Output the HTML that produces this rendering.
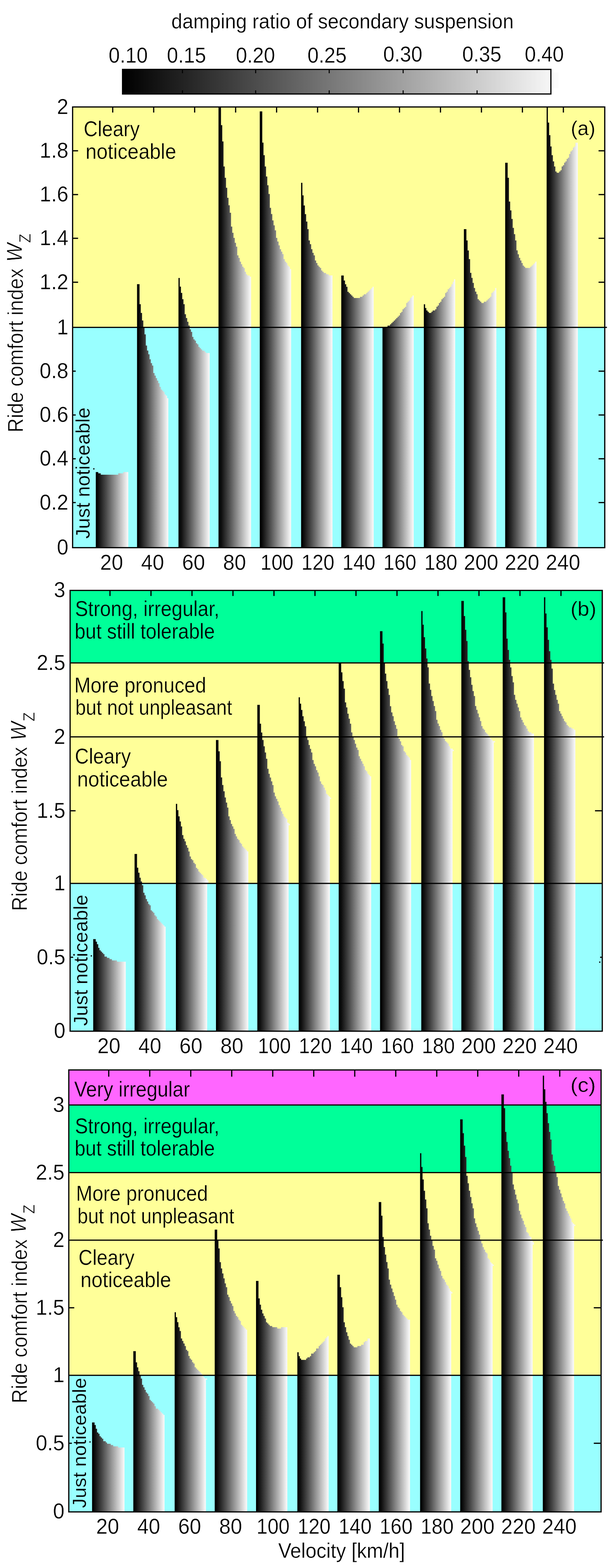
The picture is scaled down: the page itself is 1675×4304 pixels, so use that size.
<!DOCTYPE html><html><head><meta charset="utf-8"><title>Ride comfort index</title><style>html,body{margin:0;padding:0;background:#fff}svg{display:block}</style></head><body><svg width="1675" height="4304" viewBox="0 0 1675 4304" font-family="'Liberation Sans', Arial, sans-serif" font-size="54.3" fill="#000" stroke-width="0.5">
<rect width="1675" height="4304" fill="#fff"/>
<text text-anchor="middle" transform="translate(940.5 78.0) scale(0.995 1.04)" stroke="#fff">damping ratio of secondary suspension</text>
<linearGradient id="cb" x1="0" y1="0" x2="1" y2="0"><stop offset="0" stop-color="#000"/><stop offset="1" stop-color="#f6f6f6"/></linearGradient>
<rect x="1516.5" y="199" width="17" height="43" fill="#fbfbfb"/>
<rect x="336.5" y="190.5" width="1176.2" height="67.5" fill="url(#cb)" stroke="#000" stroke-width="3.3"/>
<line x1="501.0" y1="190.0" x2="501.0" y2="201.0" stroke="#000" stroke-width="2.8"/>
<line x1="501.0" y1="259.0" x2="501.0" y2="248.0" stroke="#000" stroke-width="2.8"/>
<line x1="702.0" y1="190.0" x2="702.0" y2="201.0" stroke="#000" stroke-width="2.8"/>
<line x1="702.0" y1="259.0" x2="702.0" y2="248.0" stroke="#000" stroke-width="2.8"/>
<line x1="904.0" y1="190.0" x2="904.0" y2="201.0" stroke="#000" stroke-width="2.8"/>
<line x1="904.0" y1="259.0" x2="904.0" y2="248.0" stroke="#000" stroke-width="2.8"/>
<line x1="1107.0" y1="190.0" x2="1107.0" y2="201.0" stroke="#000" stroke-width="2.8"/>
<line x1="1107.0" y1="259.0" x2="1107.0" y2="248.0" stroke="#000" stroke-width="2.8"/>
<line x1="1310.0" y1="190.0" x2="1310.0" y2="201.0" stroke="#000" stroke-width="2.8"/>
<line x1="1310.0" y1="259.0" x2="1310.0" y2="248.0" stroke="#000" stroke-width="2.8"/>
<text text-anchor="middle" transform="translate(352.0 172.0) scale(1.020 1.095)" stroke="#fff">0.10</text>
<text text-anchor="middle" transform="translate(512.0 172.0) scale(1.020 1.095)" stroke="#fff">0.15</text>
<text text-anchor="middle" transform="translate(701.5 172.0) scale(1.020 1.095)" stroke="#fff">0.20</text>
<text text-anchor="middle" transform="translate(898.0 172.0) scale(1.020 1.095)" stroke="#fff">0.25</text>
<text text-anchor="middle" transform="translate(1106.0 168.8) scale(1.020 1.095)" stroke="#fff">0.30</text>
<text text-anchor="middle" transform="translate(1323.0 168.8) scale(1.020 1.095)" stroke="#fff">0.35</text>
<text text-anchor="middle" transform="translate(1494.5 168.8) scale(1.020 1.095)" stroke="#fff">0.40</text>
<rect x="199.4" y="898.7" width="1461.2" height="604.6" fill="#99ffff"/>
<rect x="199.4" y="293.5" width="1461.2" height="605.2" fill="#ffff99"/>
<clipPath id="clipa"><rect x="0" y="293.6" width="1675" height="1209.7"/></clipPath>
<g clip-path="url(#clipa)">
<linearGradient id="g1" gradientUnits="userSpaceOnUse" x1="263.0" y1="0" x2="352.3" y2="0"><stop offset="0.03" stop-color="#000000"/><stop offset="0.34" stop-color="#505050"/><stop offset="0.57" stop-color="#8e8e8e"/><stop offset="0.77" stop-color="#c2c2c2"/><stop offset="0.98" stop-color="#f7f7f7"/></linearGradient>
<path d="M263.0,1503.3V1295.8H266.4V1295.8H269.9V1299.3H273.3V1299.3H276.7V1302.9H280.2V1302.9H283.6V1302.9H287.0V1302.9H290.5V1302.9H293.9V1302.9H297.3V1302.9H300.8V1302.9H304.2V1302.9H307.6V1302.9H311.1V1302.9H314.5V1302.9H317.9V1302.9H321.4V1302.9H324.8V1299.3H328.2V1299.3H331.7V1299.3H335.1V1299.3H338.5V1295.8H342.0V1295.8H345.4V1295.8H348.8V1295.8H352.3V1503.3Z" fill="url(#g1)"/>
<linearGradient id="g2" gradientUnits="userSpaceOnUse" x1="376.3" y1="0" x2="462.2" y2="0"><stop offset="0.03" stop-color="#000000"/><stop offset="0.34" stop-color="#505050"/><stop offset="0.57" stop-color="#8e8e8e"/><stop offset="0.77" stop-color="#c2c2c2"/><stop offset="0.98" stop-color="#f7f7f7"/></linearGradient>
<path d="M376.3,1503.3V779.9H379.8V779.9H383.2V834.9H386.6V859.1H390.1V879.8H393.5V898.7H396.9V917.8H400.4V948.5H403.8V962.3H407.3V972.6H410.7V986.2H414.1V996.8H417.6V1003.6H421.0V1024.1H424.4V1031.0H427.9V1038.0H431.3V1044.8H434.7V1051.8H438.2V1062.0H441.6V1069.0H445.1V1072.3H448.5V1075.8H451.9V1082.8H455.4V1086.1H458.8V1093.0H462.2V1503.3Z" fill="url(#g2)"/>
<linearGradient id="g3" gradientUnits="userSpaceOnUse" x1="490.1" y1="0" x2="575.8" y2="0"><stop offset="0.03" stop-color="#000000"/><stop offset="0.34" stop-color="#505050"/><stop offset="0.57" stop-color="#8e8e8e"/><stop offset="0.77" stop-color="#c2c2c2"/><stop offset="0.98" stop-color="#f7f7f7"/></linearGradient>
<path d="M490.1,1503.3V763.0H493.5V786.8H496.9V803.9H500.4V821.2H503.8V835.0H507.2V862.5H510.7V873.1H514.1V883.2H517.5V893.6H521.0V904.0H524.4V910.9H527.8V924.7H531.2V931.5H534.7V935.1H538.1V942.0H541.5V945.3H545.0V952.2H548.4V955.6H551.8V959.1H555.3V962.6H558.7V962.6H562.1V966.0H565.6V969.1H569.0V969.1H572.4V969.1H575.8V1503.3Z" fill="url(#g3)"/>
<linearGradient id="g4" gradientUnits="userSpaceOnUse" x1="600.0" y1="0" x2="689.4" y2="0"><stop offset="0.03" stop-color="#000000"/><stop offset="0.34" stop-color="#505050"/><stop offset="0.57" stop-color="#8e8e8e"/><stop offset="0.77" stop-color="#c2c2c2"/><stop offset="0.98" stop-color="#f7f7f7"/></linearGradient>
<path d="M600.0,1503.3V285.0H603.4V285.0H606.9V343.6H610.3V388.3H613.7V457.1H617.2V488.1H620.6V515.5H624.0V543.0H627.5V563.6H630.9V584.1H634.4V621.9H637.8V639.1H641.2V652.9H644.7V666.6H648.1V676.9H651.5V700.9H655.0V707.9H658.4V718.2H661.9V725.2H665.3V731.9H668.7V735.7H672.2V745.9H675.6V752.8H679.0V756.2H682.5V756.2H685.9V759.6H689.4V1503.3Z" fill="url(#g4)"/>
<linearGradient id="g5" gradientUnits="userSpaceOnUse" x1="713.3" y1="0" x2="799.4" y2="0"><stop offset="0.03" stop-color="#000000"/><stop offset="0.34" stop-color="#505050"/><stop offset="0.57" stop-color="#8e8e8e"/><stop offset="0.77" stop-color="#c2c2c2"/><stop offset="0.98" stop-color="#f7f7f7"/></linearGradient>
<path d="M713.3,1503.3V305.8H716.7V305.8H720.2V391.6H723.6V426.1H727.1V457.0H730.5V484.5H734.0V508.5H737.4V532.6H740.9V570.5H744.3V587.4H747.7V604.9H751.2V618.4H754.6V632.2H758.1V652.9H761.5V663.0H765.0V673.5H768.4V683.9H771.9V690.7H775.3V697.5H778.7V711.3H782.2V718.0H785.6V721.7H789.1V728.5H792.5V731.8H796.0V738.6H799.4V1503.3Z" fill="url(#g5)"/>
<linearGradient id="g6" gradientUnits="userSpaceOnUse" x1="826.8" y1="0" x2="913.0" y2="0"><stop offset="0.03" stop-color="#000000"/><stop offset="0.34" stop-color="#505050"/><stop offset="0.57" stop-color="#8e8e8e"/><stop offset="0.77" stop-color="#c2c2c2"/><stop offset="0.98" stop-color="#f7f7f7"/></linearGradient>
<path d="M826.8,1503.3V501.7H830.3V536.2H833.7V563.9H837.2V587.8H840.6V608.3H844.1V629.1H847.5V659.9H851.0V670.2H854.4V684.0H857.9V694.1H861.3V701.1H864.8V715.0H868.2V722.1H871.6V728.6H875.1V732.2H878.5V735.4H882.0V742.4H885.4V746.0H888.9V749.2H892.3V749.2H895.8V752.8H899.2V752.8H902.7V756.1H906.1V756.1H909.6V756.1H913.0V1503.3Z" fill="url(#g6)"/>
<linearGradient id="g7" gradientUnits="userSpaceOnUse" x1="937.1" y1="0" x2="1026.2" y2="0"><stop offset="0.03" stop-color="#000000"/><stop offset="0.34" stop-color="#505050"/><stop offset="0.57" stop-color="#8e8e8e"/><stop offset="0.77" stop-color="#c2c2c2"/><stop offset="0.98" stop-color="#f7f7f7"/></linearGradient>
<path d="M937.1,1503.3V756.2H940.5V756.2H943.9V769.9H947.4V780.2H950.8V787.2H954.2V801.1H957.7V804.3H961.1V807.8H964.5V811.3H967.9V814.8H971.4V818.1H974.8V818.1H978.2V818.1H981.7V818.1H985.1V818.1H988.5V814.8H991.9V814.8H995.4V811.3H998.8V807.8H1002.2V807.8H1005.7V804.3H1009.1V801.1H1012.5V797.6H1015.9V794.2H1019.4V790.6H1022.8V787.2H1026.2V1503.3Z" fill="url(#g7)"/>
<linearGradient id="g8" gradientUnits="userSpaceOnUse" x1="1050.3" y1="0" x2="1136.1" y2="0"><stop offset="0.03" stop-color="#000000"/><stop offset="0.34" stop-color="#505050"/><stop offset="0.57" stop-color="#8e8e8e"/><stop offset="0.77" stop-color="#c2c2c2"/><stop offset="0.98" stop-color="#f7f7f7"/></linearGradient>
<path d="M1050.3,1503.3V896.9H1053.7V896.9H1057.1V896.9H1060.6V896.9H1064.0V893.7H1067.4V893.7H1070.9V890.2H1074.3V886.7H1077.7V883.5H1081.2V880.0H1084.6V876.5H1088.0V873.0H1091.5V869.5H1094.9V866.1H1098.3V859.3H1101.8V855.9H1105.2V848.9H1108.6V845.4H1112.1V842.2H1115.5V831.7H1118.9V828.3H1122.4V824.8H1125.8V818.0H1129.2V814.6H1132.7V811.1H1136.1V1503.3Z" fill="url(#g8)"/>
<linearGradient id="g9" gradientUnits="userSpaceOnUse" x1="1163.8" y1="0" x2="1249.9" y2="0"><stop offset="0.03" stop-color="#000000"/><stop offset="0.34" stop-color="#505050"/><stop offset="0.57" stop-color="#8e8e8e"/><stop offset="0.77" stop-color="#c2c2c2"/><stop offset="0.98" stop-color="#f7f7f7"/></linearGradient>
<path d="M1163.8,1503.3V835.2H1167.3V845.4H1170.7V852.3H1174.2V855.8H1177.6V859.1H1181.0V859.1H1184.5V855.8H1187.9V852.3H1191.4V852.3H1194.8V848.9H1198.3V842.1H1201.7V838.6H1205.1V831.7H1208.6V828.2H1212.0V821.5H1215.5V818.0H1218.9V814.5H1222.4V804.3H1225.8V800.8H1229.2V793.9H1232.7V790.6H1236.1V787.1H1239.6V780.2H1243.0V773.4H1246.4V766.5H1249.9V1503.3Z" fill="url(#g9)"/>
<linearGradient id="g10" gradientUnits="userSpaceOnUse" x1="1273.8" y1="0" x2="1362.9" y2="0"><stop offset="0.03" stop-color="#000000"/><stop offset="0.34" stop-color="#505050"/><stop offset="0.57" stop-color="#8e8e8e"/><stop offset="0.77" stop-color="#c2c2c2"/><stop offset="0.98" stop-color="#f7f7f7"/></linearGradient>
<path d="M1273.8,1503.3V629.1H1277.2V629.1H1280.7V660.0H1284.1V687.4H1287.5V711.3H1290.9V749.1H1294.4V762.8H1297.8V776.5H1301.2V790.4H1304.6V800.6H1308.1V807.6H1311.5V821.3H1314.9V824.7H1318.4V828.2H1321.8V831.7H1325.2V831.7H1328.6V828.2H1332.1V828.2H1335.5V824.7H1338.9V821.3H1342.3V818.0H1345.8V814.5H1349.2V804.3H1352.6V800.8H1356.1V797.4H1359.5V790.4H1362.9V1503.3Z" fill="url(#g10)"/>
<linearGradient id="g11" gradientUnits="userSpaceOnUse" x1="1387.2" y1="0" x2="1473.2" y2="0"><stop offset="0.03" stop-color="#000000"/><stop offset="0.34" stop-color="#505050"/><stop offset="0.57" stop-color="#8e8e8e"/><stop offset="0.77" stop-color="#c2c2c2"/><stop offset="0.98" stop-color="#f7f7f7"/></linearGradient>
<path d="M1387.2,1503.3V446.8H1390.6V446.8H1394.0V488.0H1397.5V553.3H1400.9V577.4H1404.4V601.1H1407.8V625.5H1411.3V642.8H1414.7V660.0H1418.1V687.3H1421.6V697.9H1425.0V707.8H1428.5V715.0H1431.9V722.0H1435.4V728.9H1438.8V732.2H1442.2V735.5H1445.7V735.5H1449.1V735.5H1452.6V735.5H1456.0V732.2H1459.5V728.9H1462.9V725.6H1466.3V722.3H1469.8V718.3H1473.2V1503.3Z" fill="url(#g11)"/>
<linearGradient id="g12" gradientUnits="userSpaceOnUse" x1="1501.0" y1="0" x2="1586.8" y2="0"><stop offset="0.03" stop-color="#000000"/><stop offset="0.34" stop-color="#505050"/><stop offset="0.57" stop-color="#8e8e8e"/><stop offset="0.77" stop-color="#c2c2c2"/><stop offset="0.98" stop-color="#f7f7f7"/></linearGradient>
<path d="M1501.0,1503.3V285.0H1504.4V336.5H1507.9V370.9H1511.3V402.0H1514.7V426.0H1518.2V443.1H1521.6V456.9H1525.0V470.8H1528.5V474.2H1531.9V474.2H1535.3V470.8H1538.8V467.3H1542.2V456.9H1545.6V453.5H1549.1V446.6H1552.5V443.1H1555.9V436.2H1559.4V432.8H1562.8V422.7H1566.2V415.7H1569.7V412.3H1573.1V405.3H1576.5V402.0H1580.0V391.8H1583.4V391.8H1586.8V1503.3Z" fill="url(#g12)"/>
</g>
<line x1="199.4" y1="898.7" x2="1666.6" y2="898.7" stroke="#000" stroke-width="3.2"/>
<line x1="309.5" y1="293.6" x2="309.5" y2="308.9" stroke="#000" stroke-width="3.3"/>
<line x1="422.0" y1="293.6" x2="422.0" y2="308.9" stroke="#000" stroke-width="3.3"/>
<line x1="534.5" y1="293.6" x2="534.5" y2="308.9" stroke="#000" stroke-width="3.3"/>
<line x1="647.0" y1="293.6" x2="647.0" y2="308.9" stroke="#000" stroke-width="3.3"/>
<line x1="759.5" y1="293.6" x2="759.5" y2="308.9" stroke="#000" stroke-width="3.3"/>
<line x1="872.0" y1="293.6" x2="872.0" y2="308.9" stroke="#000" stroke-width="3.3"/>
<line x1="984.5" y1="293.6" x2="984.5" y2="308.9" stroke="#000" stroke-width="3.3"/>
<line x1="1097.0" y1="293.6" x2="1097.0" y2="308.9" stroke="#000" stroke-width="3.3"/>
<line x1="1209.5" y1="293.6" x2="1209.5" y2="308.9" stroke="#000" stroke-width="3.3"/>
<line x1="1322.0" y1="293.6" x2="1322.0" y2="308.9" stroke="#000" stroke-width="3.3"/>
<line x1="1434.5" y1="293.6" x2="1434.5" y2="308.9" stroke="#000" stroke-width="3.3"/>
<line x1="1547.0" y1="293.6" x2="1547.0" y2="308.9" stroke="#000" stroke-width="3.3"/>
<line x1="199.4" y1="413.9" x2="214.4" y2="413.9" stroke="#000" stroke-width="3.3"/>
<line x1="1660.6" y1="413.9" x2="1643.6" y2="413.9" stroke="#000" stroke-width="3.3"/>
<line x1="199.4" y1="534.1" x2="214.4" y2="534.1" stroke="#000" stroke-width="3.3"/>
<line x1="1660.6" y1="534.1" x2="1643.6" y2="534.1" stroke="#000" stroke-width="3.3"/>
<line x1="199.4" y1="654.1" x2="214.4" y2="654.1" stroke="#000" stroke-width="3.3"/>
<line x1="1660.6" y1="654.1" x2="1643.6" y2="654.1" stroke="#000" stroke-width="3.3"/>
<line x1="199.4" y1="774.7" x2="214.4" y2="774.7" stroke="#000" stroke-width="3.3"/>
<line x1="1660.6" y1="774.7" x2="1643.6" y2="774.7" stroke="#000" stroke-width="3.3"/>
<line x1="199.4" y1="1018.8" x2="207.9" y2="1018.8" stroke="#000" stroke-width="3.3"/>
<line x1="1660.6" y1="1018.8" x2="1643.6" y2="1018.8" stroke="#000" stroke-width="3.3"/>
<line x1="199.4" y1="1139.1" x2="207.9" y2="1139.1" stroke="#000" stroke-width="3.3"/>
<line x1="1660.6" y1="1139.1" x2="1643.6" y2="1139.1" stroke="#000" stroke-width="3.3"/>
<line x1="199.4" y1="1259.3" x2="207.9" y2="1259.3" stroke="#000" stroke-width="3.3"/>
<line x1="1660.6" y1="1259.3" x2="1643.6" y2="1259.3" stroke="#000" stroke-width="3.3"/>
<line x1="199.4" y1="1379.5" x2="207.9" y2="1379.5" stroke="#000" stroke-width="3.3"/>
<line x1="1660.6" y1="1379.5" x2="1643.6" y2="1379.5" stroke="#000" stroke-width="3.3"/>
<rect x="199.4" y="293.6" width="1461.2" height="1209.7" fill="none" stroke="#000" stroke-width="3.3"/>
<text text-anchor="end" transform="translate(187.7 312.5) scale(1.045 1.095)" stroke="#fff">2</text>
<text text-anchor="end" transform="translate(187.7 432.9) scale(1.045 1.095)" stroke="#fff">1.8</text>
<text text-anchor="end" transform="translate(187.7 553.1) scale(1.045 1.095)" stroke="#fff">1.6</text>
<text text-anchor="end" transform="translate(187.7 673.1) scale(1.045 1.095)" stroke="#fff">1.4</text>
<text text-anchor="end" transform="translate(187.7 793.7) scale(1.045 1.095)" stroke="#fff">1.2</text>
<text text-anchor="end" transform="translate(187.7 917.7) scale(1.045 1.095)" stroke="#fff">1</text>
<text text-anchor="end" transform="translate(187.7 1037.8) scale(1.045 1.095)" stroke="#fff">0.8</text>
<text text-anchor="end" transform="translate(187.7 1158.1) scale(1.045 1.095)" stroke="#fff">0.6</text>
<text text-anchor="end" transform="translate(187.7 1278.3) scale(1.045 1.095)" stroke="#fff">0.4</text>
<text text-anchor="end" transform="translate(187.7 1398.5) scale(1.045 1.095)" stroke="#fff">0.2</text>
<text text-anchor="end" transform="translate(187.7 1521.7) scale(1.045 1.095)" stroke="#fff">0</text>
<text text-anchor="middle" transform="translate(306.5 1563.8) scale(1.045 1.095)" stroke="#fff">20</text>
<text text-anchor="middle" transform="translate(419.0 1563.8) scale(1.045 1.095)" stroke="#fff">40</text>
<text text-anchor="middle" transform="translate(531.5 1563.8) scale(1.045 1.095)" stroke="#fff">60</text>
<text text-anchor="middle" transform="translate(644.0 1563.8) scale(1.045 1.095)" stroke="#fff">80</text>
<text text-anchor="middle" transform="translate(760.5 1563.8) scale(1.000 1.095)" stroke="#fff">100</text>
<text text-anchor="middle" transform="translate(873.0 1563.8) scale(1.000 1.095)" stroke="#fff">120</text>
<text text-anchor="middle" transform="translate(985.5 1563.8) scale(1.000 1.095)" stroke="#fff">140</text>
<text text-anchor="middle" transform="translate(1098.0 1563.8) scale(1.000 1.095)" stroke="#fff">160</text>
<text text-anchor="middle" transform="translate(1210.5 1563.8) scale(1.000 1.095)" stroke="#fff">180</text>
<text text-anchor="middle" transform="translate(1321.0 1563.8) scale(1.045 1.095)" stroke="#fff">200</text>
<text text-anchor="middle" transform="translate(1433.5 1563.8) scale(1.045 1.095)" stroke="#fff">220</text>
<text text-anchor="middle" transform="translate(1546.0 1563.8) scale(1.045 1.095)" stroke="#fff">240</text>
<text transform="translate(63.4 1187.0) rotate(-90) scale(0.995 1.075)" stroke="#fff" stroke-width="0.8">Ride comfort index <tspan font-style="italic" dy="-3" dx="3">W</tspan><tspan font-size="42" dy="22" dx="1">Z</tspan></text>
<text transform="translate(229.8 374.0) scale(0.980 1.075)" stroke="#ffff99">Cleary</text>
<text transform="translate(234.9 435.6) scale(1.006 1.075)" stroke="#ffff99">noticeable</text>
<text transform="translate(1567.3 370.5) scale(1.020 1.03)" stroke="#ffff99">(a)</text>
<text transform="translate(246.0 1478.7) rotate(-90) scale(0.995 1.0)" stroke="#99ffff">Just noticeable</text>
<rect x="192.5" y="2424.8" width="1461.3" height="405.7" fill="#99ffff"/>
<rect x="192.5" y="1819.7" width="1461.3" height="605.1" fill="#ffff99"/>
<rect x="192.5" y="1620.4" width="1461.3" height="199.3" fill="#00ff99"/>
<clipPath id="clipb"><rect x="0" y="1620.6" width="1675" height="1209.9"/></clipPath>
<g clip-path="url(#clipb)">
<linearGradient id="g13" gradientUnits="userSpaceOnUse" x1="256.0" y1="0" x2="345.4" y2="0"><stop offset="0.03" stop-color="#000000"/><stop offset="0.34" stop-color="#505050"/><stop offset="0.57" stop-color="#8e8e8e"/><stop offset="0.77" stop-color="#c2c2c2"/><stop offset="0.98" stop-color="#f7f7f7"/></linearGradient>
<path d="M256.0,2830.5V2577.8H259.5V2577.8H262.9V2584.7H266.3V2591.7H269.8V2601.7H273.2V2608.6H276.7V2612.1H280.1V2615.6H283.5V2619.1H287.0V2625.8H290.4V2625.8H293.8V2629.3H297.3V2629.3H300.7V2632.8H304.1V2632.8H307.6V2636.2H311.0V2636.2H314.4V2636.2H317.9V2636.2H321.3V2639.7H324.8V2639.7H328.2V2639.7H331.6V2639.7H335.1V2639.7H338.5V2639.7H341.9V2639.7H345.4V2830.5Z" fill="url(#g13)"/>
<linearGradient id="g14" gradientUnits="userSpaceOnUse" x1="369.5" y1="0" x2="454.9" y2="0"><stop offset="0.03" stop-color="#000000"/><stop offset="0.34" stop-color="#505050"/><stop offset="0.57" stop-color="#8e8e8e"/><stop offset="0.77" stop-color="#c2c2c2"/><stop offset="0.98" stop-color="#f7f7f7"/></linearGradient>
<path d="M369.5,2830.5V2344.1H372.9V2344.1H376.3V2381.7H379.7V2395.6H383.2V2409.3H386.6V2419.5H390.0V2430.0H393.4V2450.6H396.8V2457.4H400.2V2467.8H403.7V2474.5H407.1V2481.5H410.5V2485.0H413.9V2498.7H417.3V2502.1H420.7V2505.6H424.2V2512.4H427.6V2515.8H431.0V2522.8H434.4V2526.3H437.8V2529.5H441.2V2533.0H444.7V2536.5H448.1V2540.0H451.5V2543.4H454.9V2830.5Z" fill="url(#g14)"/>
<linearGradient id="g15" gradientUnits="userSpaceOnUse" x1="483.0" y1="0" x2="568.9" y2="0"><stop offset="0.03" stop-color="#000000"/><stop offset="0.34" stop-color="#505050"/><stop offset="0.57" stop-color="#8e8e8e"/><stop offset="0.77" stop-color="#c2c2c2"/><stop offset="0.98" stop-color="#f7f7f7"/></linearGradient>
<path d="M483.0,2830.5V2206.5H486.5V2223.7H489.9V2240.8H493.3V2254.7H496.8V2268.4H500.2V2292.3H503.6V2302.5H507.1V2309.5H510.5V2319.9H513.9V2326.9H517.4V2337.3H520.8V2351.0H524.3V2358.0H527.7V2361.2H531.1V2368.2H534.6V2371.7H538.0V2381.9H541.4V2385.4H544.9V2392.3H548.3V2395.8H551.7V2399.3H555.2V2402.5H558.6V2409.5H562.0V2409.5H565.5V2413.0H568.9V2830.5Z" fill="url(#g15)"/>
<rect x="568.9" y="2416.2" width="3.4" height="8.0" fill="#f6f6f6"/>
<linearGradient id="g16" gradientUnits="userSpaceOnUse" x1="593.0" y1="0" x2="681.9" y2="0"><stop offset="0.03" stop-color="#000000"/><stop offset="0.34" stop-color="#505050"/><stop offset="0.57" stop-color="#8e8e8e"/><stop offset="0.77" stop-color="#c2c2c2"/><stop offset="0.98" stop-color="#f7f7f7"/></linearGradient>
<path d="M593.0,2830.5V2031.3H596.4V2031.3H599.9V2062.2H603.3V2089.6H606.7V2134.1H610.1V2154.8H613.5V2172.1H617.0V2189.1H620.4V2203.0H623.8V2216.7H627.2V2240.8H630.6V2251.0H634.0V2261.5H637.5V2268.2H640.9V2275.2H644.3V2288.9H647.7V2295.8H651.1V2302.5H654.6V2306.0H658.0V2313.0H661.4V2316.2H664.8V2323.2H668.2V2326.7H671.7V2330.1H675.1V2333.4H678.5V2336.9H681.9V2830.5Z" fill="url(#g16)"/>
<linearGradient id="g17" gradientUnits="userSpaceOnUse" x1="706.6" y1="0" x2="792.5" y2="0"><stop offset="0.03" stop-color="#000000"/><stop offset="0.34" stop-color="#505050"/><stop offset="0.57" stop-color="#8e8e8e"/><stop offset="0.77" stop-color="#c2c2c2"/><stop offset="0.98" stop-color="#f7f7f7"/></linearGradient>
<path d="M706.6,2830.5V1934.8H710.0V1934.8H713.5V1986.5H716.9V2010.8H720.3V2031.3H723.8V2048.4H727.2V2065.6H730.6V2082.8H734.1V2110.2H737.5V2123.9H740.9V2134.3H744.4V2144.7H747.8V2154.9H751.2V2175.6H754.7V2185.8H758.1V2192.8H761.6V2199.7H765.0V2209.9H768.4V2216.9H771.9V2227.1H775.3V2234.1H778.7V2241.0H782.2V2244.3H785.6V2247.8H789.0V2258.0H792.5V2830.5Z" fill="url(#g17)"/>
<rect x="792.5" y="2261.4" width="3.4" height="3.7" fill="#f6f6f6"/>
<linearGradient id="g18" gradientUnits="userSpaceOnUse" x1="820.1" y1="0" x2="905.9" y2="0"><stop offset="0.03" stop-color="#000000"/><stop offset="0.34" stop-color="#505050"/><stop offset="0.57" stop-color="#8e8e8e"/><stop offset="0.77" stop-color="#c2c2c2"/><stop offset="0.98" stop-color="#f7f7f7"/></linearGradient>
<path d="M820.1,2830.5V1914.1H823.5V1931.5H826.9V1948.7H830.4V1965.9H833.8V1979.8H837.2V1993.5H840.7V2020.8H844.1V2031.3H847.5V2045.0H851.0V2055.4H854.4V2065.6H857.8V2086.3H861.3V2096.7H864.7V2103.4H868.1V2113.9H871.6V2120.6H875.0V2131.0H878.4V2144.7H881.9V2151.7H885.3V2154.9H888.7V2161.9H892.2V2168.9H895.6V2179.1H899.0V2182.5H902.5V2186.0H905.9V2830.5Z" fill="url(#g18)"/>
<rect x="905.9" y="2189.5" width="3.4" height="3.5" fill="#f6f6f6"/>
<linearGradient id="g19" gradientUnits="userSpaceOnUse" x1="930.0" y1="0" x2="1019.2" y2="0"><stop offset="0.03" stop-color="#000000"/><stop offset="0.34" stop-color="#505050"/><stop offset="0.57" stop-color="#8e8e8e"/><stop offset="0.77" stop-color="#c2c2c2"/><stop offset="0.98" stop-color="#f7f7f7"/></linearGradient>
<path d="M930.0,2830.5V1818.2H933.5V1818.2H936.9V1845.6H940.3V1869.5H943.8V1890.2H947.2V1928.0H950.6V1941.7H954.0V1959.1H957.5V1972.8H960.9V1986.5H964.3V2010.6H967.7V2023.2H971.2V2031.2H974.6V2041.5H978.0V2051.9H981.5V2058.6H984.9V2075.8H988.3V2082.7H991.7V2089.5H995.2V2096.4H998.6V2103.2H1002.0V2113.6H1005.4V2117.1H1008.9V2123.8H1012.3V2127.3H1015.7V2130.8H1019.2V2830.5Z" fill="url(#g19)"/>
<linearGradient id="g20" gradientUnits="userSpaceOnUse" x1="1043.5" y1="0" x2="1128.9" y2="0"><stop offset="0.03" stop-color="#000000"/><stop offset="0.34" stop-color="#505050"/><stop offset="0.57" stop-color="#8e8e8e"/><stop offset="0.77" stop-color="#c2c2c2"/><stop offset="0.98" stop-color="#f7f7f7"/></linearGradient>
<path d="M1043.5,2830.5V1732.4H1046.9V1732.4H1050.3V1766.5H1053.7V1820.0H1057.2V1848.9H1060.6V1869.5H1064.0V1890.2H1067.4V1907.4H1070.8V1938.4H1074.2V1955.6H1077.7V1965.8H1081.1V1979.7H1084.5V1989.9H1087.9V2000.4H1091.3V2023.2H1094.7V2027.8H1098.2V2034.7H1101.6V2044.9H1105.0V2048.4H1108.4V2062.1H1111.8V2065.6H1115.2V2072.3H1118.7V2075.8H1122.1V2079.3H1125.5V2086.0H1128.9V2830.5Z" fill="url(#g20)"/>
<linearGradient id="g21" gradientUnits="userSpaceOnUse" x1="1156.8" y1="0" x2="1242.7" y2="0"><stop offset="0.03" stop-color="#000000"/><stop offset="0.34" stop-color="#505050"/><stop offset="0.57" stop-color="#8e8e8e"/><stop offset="0.77" stop-color="#c2c2c2"/><stop offset="0.98" stop-color="#f7f7f7"/></linearGradient>
<path d="M1156.8,2830.5V1677.2H1160.3V1714.8H1163.7V1749.1H1167.1V1780.0H1170.6V1807.6H1174.0V1831.7H1177.4V1876.3H1180.9V1893.4H1184.3V1910.6H1187.7V1924.3H1191.2V1938.0H1194.6V1951.7H1198.0V1975.8H1201.5V1986.0H1204.9V1993.0H1208.3V2003.2H1211.8V2010.1H1215.2V2021.2H1218.6V2027.3H1222.1V2034.3H1225.5V2037.5H1228.9V2041.0H1232.4V2048.0H1235.8V2054.7H1239.2V2054.7H1242.7V2830.5Z" fill="url(#g21)"/>
<rect x="1242.7" y="2058.2" width="3.4" height="3.5" fill="#f6f6f6"/>
<linearGradient id="g22" gradientUnits="userSpaceOnUse" x1="1266.8" y1="0" x2="1355.9" y2="0"><stop offset="0.03" stop-color="#000000"/><stop offset="0.34" stop-color="#505050"/><stop offset="0.57" stop-color="#8e8e8e"/><stop offset="0.77" stop-color="#c2c2c2"/><stop offset="0.98" stop-color="#f7f7f7"/></linearGradient>
<path d="M1266.8,2830.5V1649.6H1270.2V1649.6H1273.7V1690.9H1277.1V1728.7H1280.5V1759.5H1283.9V1814.7H1287.4V1838.7H1290.8V1859.1H1294.2V1879.7H1297.6V1896.9H1301.1V1910.6H1304.5V1938.0H1307.9V1948.4H1311.4V1958.6H1314.8V1968.8H1318.2V1979.3H1321.6V1993.0H1325.1V1999.9H1328.5V2003.2H1331.9V2010.1H1335.3V2013.6H1338.8V2017.1H1342.2V2021.2H1345.6V2027.3H1349.1V2030.8H1352.5V2034.3H1355.9V2830.5Z" fill="url(#g22)"/>
<rect x="1355.9" y="2034.3" width="3.4" height="3.5" fill="#f6f6f6"/>
<linearGradient id="g23" gradientUnits="userSpaceOnUse" x1="1380.4" y1="0" x2="1466.2" y2="0"><stop offset="0.03" stop-color="#000000"/><stop offset="0.34" stop-color="#505050"/><stop offset="0.57" stop-color="#8e8e8e"/><stop offset="0.77" stop-color="#c2c2c2"/><stop offset="0.98" stop-color="#f7f7f7"/></linearGradient>
<path d="M1380.4,2830.5V1639.6H1383.8V1639.6H1387.3V1680.9H1390.7V1753.0H1394.1V1783.9H1397.6V1811.3H1401.0V1831.9H1404.4V1855.8H1407.9V1873.0H1411.3V1907.3H1414.7V1921.0H1418.2V1931.5H1421.6V1941.7H1425.0V1952.1H1428.5V1969.3H1431.9V1976.0H1435.3V1983.0H1438.8V1989.9H1442.2V1993.2H1445.6V2000.1H1449.1V2007.1H1452.5V2010.6H1455.9V2010.6H1459.4V2013.8H1462.8V2013.8H1466.2V2830.5Z" fill="url(#g23)"/>
<linearGradient id="g24" gradientUnits="userSpaceOnUse" x1="1493.8" y1="0" x2="1579.9" y2="0"><stop offset="0.03" stop-color="#000000"/><stop offset="0.34" stop-color="#505050"/><stop offset="0.57" stop-color="#8e8e8e"/><stop offset="0.77" stop-color="#c2c2c2"/><stop offset="0.98" stop-color="#f7f7f7"/></linearGradient>
<path d="M1493.8,2830.5V1639.6H1497.3V1684.1H1500.7V1721.9H1504.2V1756.3H1507.6V1787.4H1511.1V1811.3H1514.5V1835.2H1517.9V1876.5H1521.4V1893.9H1524.8V1907.3H1528.3V1921.0H1531.7V1931.5H1535.2V1952.1H1538.6V1958.8H1542.0V1965.8H1545.5V1972.5H1548.9V1979.5H1552.4V1983.0H1555.8V1989.9H1559.3V1993.2H1562.7V1996.7H1566.1V1996.7H1569.6V2000.1H1573.0V2000.1H1576.5V2003.6H1579.9V2830.5Z" fill="url(#g24)"/>
</g>
<line x1="192.5" y1="2424.8" x2="1653.8" y2="2424.8" stroke="#000" stroke-width="3.2"/>
<line x1="192.5" y1="2022.6" x2="1658.8" y2="2022.6" stroke="#000" stroke-width="3.2"/>
<line x1="192.5" y1="1819.7" x2="1658.8" y2="1819.7" stroke="#000" stroke-width="3.2"/>
<line x1="302.0" y1="1620.6" x2="302.0" y2="1635.9" stroke="#000" stroke-width="3.3"/>
<line x1="414.6" y1="1620.6" x2="414.6" y2="1635.9" stroke="#000" stroke-width="3.3"/>
<line x1="527.2" y1="1620.6" x2="527.2" y2="1635.9" stroke="#000" stroke-width="3.3"/>
<line x1="639.7" y1="1620.6" x2="639.7" y2="1635.9" stroke="#000" stroke-width="3.3"/>
<line x1="752.3" y1="1620.6" x2="752.3" y2="1635.9" stroke="#000" stroke-width="3.3"/>
<line x1="864.9" y1="1620.6" x2="864.9" y2="1635.9" stroke="#000" stroke-width="3.3"/>
<line x1="977.5" y1="1620.6" x2="977.5" y2="1635.9" stroke="#000" stroke-width="3.3"/>
<line x1="1090.1" y1="1620.6" x2="1090.1" y2="1635.9" stroke="#000" stroke-width="3.3"/>
<line x1="1202.7" y1="1620.6" x2="1202.7" y2="1635.9" stroke="#000" stroke-width="3.3"/>
<line x1="1315.2" y1="1620.6" x2="1315.2" y2="1635.9" stroke="#000" stroke-width="3.3"/>
<line x1="1427.8" y1="1620.6" x2="1427.8" y2="1635.9" stroke="#000" stroke-width="3.3"/>
<line x1="1540.4" y1="1620.6" x2="1540.4" y2="1635.9" stroke="#000" stroke-width="3.3"/>
<line x1="192.5" y1="2225.5" x2="207.5" y2="2225.5" stroke="#000" stroke-width="3.3"/>
<line x1="1653.8" y1="2225.5" x2="1633.8" y2="2225.5" stroke="#000" stroke-width="3.3"/>
<line x1="192.5" y1="2627.6" x2="201.0" y2="2627.6" stroke="#000" stroke-width="3.3"/>
<line x1="1653.8" y1="2627.6" x2="1647.8" y2="2627.6" stroke="#000" stroke-width="3.3"/>
<rect x="1645.3" y="2639.3" width="3.4" height="3.4" fill="#000"/>
<rect x="192.5" y="1620.6" width="1461.3" height="1209.9" fill="none" stroke="#000" stroke-width="3.3"/>
<text text-anchor="end" transform="translate(179.6 1639.4) scale(1.045 1.095)" stroke="#fff">3</text>
<text text-anchor="end" transform="translate(179.6 1838.7) scale(1.045 1.095)" stroke="#fff">2.5</text>
<text text-anchor="end" transform="translate(179.6 2041.6) scale(1.045 1.095)" stroke="#fff">2</text>
<text text-anchor="end" transform="translate(179.6 2244.5) scale(1.045 1.095)" stroke="#fff">1.5</text>
<text text-anchor="end" transform="translate(179.6 2443.8) scale(1.045 1.095)" stroke="#fff">1</text>
<text text-anchor="end" transform="translate(179.6 2646.6) scale(1.045 1.095)" stroke="#fff">0.5</text>
<text text-anchor="end" transform="translate(179.6 2848.5) scale(1.045 1.095)" stroke="#fff">0</text>
<text text-anchor="middle" transform="translate(299.0 2890.5) scale(1.045 1.095)" stroke="#fff">20</text>
<text text-anchor="middle" transform="translate(411.6 2890.5) scale(1.045 1.095)" stroke="#fff">40</text>
<text text-anchor="middle" transform="translate(524.2 2890.5) scale(1.045 1.095)" stroke="#fff">60</text>
<text text-anchor="middle" transform="translate(636.7 2890.5) scale(1.045 1.095)" stroke="#fff">80</text>
<text text-anchor="middle" transform="translate(753.3 2890.5) scale(1.000 1.095)" stroke="#fff">100</text>
<text text-anchor="middle" transform="translate(865.9 2890.5) scale(1.000 1.095)" stroke="#fff">120</text>
<text text-anchor="middle" transform="translate(978.5 2890.5) scale(1.000 1.095)" stroke="#fff">140</text>
<text text-anchor="middle" transform="translate(1091.1 2890.5) scale(1.000 1.095)" stroke="#fff">160</text>
<text text-anchor="middle" transform="translate(1203.7 2890.5) scale(1.000 1.095)" stroke="#fff">180</text>
<text text-anchor="middle" transform="translate(1314.2 2890.5) scale(1.045 1.095)" stroke="#fff">200</text>
<text text-anchor="middle" transform="translate(1426.8 2890.5) scale(1.045 1.095)" stroke="#fff">220</text>
<text text-anchor="middle" transform="translate(1539.4 2890.5) scale(1.045 1.095)" stroke="#fff">240</text>
<text transform="translate(74.2 2500.5) rotate(-90) scale(0.995 1.075)" stroke="#fff" stroke-width="0.8">Ride comfort index <tspan font-style="italic" dy="-3" dx="3">W</tspan><tspan font-size="42" dy="22" dx="1">Z</tspan></text>
<text transform="translate(206.0 1690.7) scale(0.988 1.075)" stroke="#00ff99">Strong, irregular,</text>
<text transform="translate(205.0 1752.5) scale(0.981 1.075)" stroke="#00ff99">but still tolerable</text>
<text transform="translate(204.0 1900.6) scale(0.992 1.075)" stroke="#ffff99">More pronuced</text>
<text transform="translate(206.7 1962.0) scale(0.964 1.075)" stroke="#ffff99">but not unpleasant</text>
<text transform="translate(205.5 2095.6) scale(0.980 1.075)" stroke="#ffff99">Cleary</text>
<text transform="translate(212.0 2158.5) scale(1.006 1.075)" stroke="#ffff99">noticeable</text>
<text transform="translate(1566.5 1690.3) scale(1.070 1.03)" stroke="#00ff99">(b)</text>
<text transform="translate(239.5 2816.0) rotate(-90) scale(0.995 1.0)" stroke="#99ffff">Just noticeable</text>
<rect x="188.9" y="3775.2" width="1461.6" height="374.8" fill="#99ffff"/>
<rect x="188.9" y="3218.7" width="1461.6" height="556.5" fill="#ffff99"/>
<rect x="188.9" y="3033.2" width="1461.6" height="185.5" fill="#00ff99"/>
<rect x="188.9" y="2936.9" width="1461.6" height="96.3" fill="#ff66ff"/>
<clipPath id="clipc"><rect x="0" y="2936.9" width="1675" height="1213.1"/></clipPath>
<g clip-path="url(#clipc)">
<linearGradient id="g25" gradientUnits="userSpaceOnUse" x1="252.8" y1="0" x2="341.9" y2="0"><stop offset="0.03" stop-color="#000000"/><stop offset="0.34" stop-color="#505050"/><stop offset="0.57" stop-color="#8e8e8e"/><stop offset="0.77" stop-color="#c2c2c2"/><stop offset="0.98" stop-color="#f7f7f7"/></linearGradient>
<path d="M252.8,4150.0V3904.5H256.3V3904.5H259.7V3911.5H263.1V3921.7H266.5V3932.1H270.0V3935.6H273.4V3942.3H276.8V3945.8H280.2V3949.3H283.7V3956.0H287.1V3956.0H290.5V3959.5H294.0V3963.0H297.4V3963.0H300.8V3963.0H304.2V3966.5H307.7V3966.5H311.1V3969.9H314.5V3969.9H317.9V3969.9H321.4V3969.9H324.8V3973.2H328.2V3973.2H331.7V3973.2H335.1V3973.2H338.5V3973.2H341.9V4150.0Z" fill="url(#g25)"/>
<linearGradient id="g26" gradientUnits="userSpaceOnUse" x1="366.1" y1="0" x2="451.9" y2="0"><stop offset="0.03" stop-color="#000000"/><stop offset="0.34" stop-color="#505050"/><stop offset="0.57" stop-color="#8e8e8e"/><stop offset="0.77" stop-color="#c2c2c2"/><stop offset="0.98" stop-color="#f7f7f7"/></linearGradient>
<path d="M366.1,4150.0V3708.7H369.5V3708.7H372.9V3739.6H376.4V3753.2H379.8V3763.7H383.2V3774.3H386.7V3784.1H390.1V3801.3H393.5V3808.0H397.0V3815.0H400.4V3821.9H403.8V3825.4H407.3V3832.1H410.7V3842.6H414.1V3845.8H417.6V3849.3H421.0V3852.8H424.4V3859.7H427.9V3866.5H431.3V3866.5H434.7V3870.0H438.2V3873.4H441.6V3876.9H445.0V3880.2H448.5V3883.7H451.9V4150.0Z" fill="url(#g26)"/>
<linearGradient id="g27" gradientUnits="userSpaceOnUse" x1="479.6" y1="0" x2="565.5" y2="0"><stop offset="0.03" stop-color="#000000"/><stop offset="0.34" stop-color="#505050"/><stop offset="0.57" stop-color="#8e8e8e"/><stop offset="0.77" stop-color="#c2c2c2"/><stop offset="0.98" stop-color="#f7f7f7"/></linearGradient>
<path d="M479.6,4150.0V3601.9H483.0V3615.6H486.5V3629.3H489.9V3643.2H493.3V3653.4H496.8V3674.1H500.2V3680.8H503.6V3687.8H507.1V3694.7H510.5V3704.9H513.9V3708.4H517.4V3722.1H520.8V3729.1H524.2V3732.5H527.7V3739.3H531.1V3742.7H534.6V3753.0H538.0V3756.4H541.4V3759.9H544.9V3763.4H548.3V3766.9H551.7V3770.3H555.2V3774.0H558.6V3780.6H562.0V3783.8H565.5V4150.0Z" fill="url(#g27)"/>
<rect x="565.5" y="3783.8" width="3.4" height="3.5" fill="#f6f6f6"/>
<linearGradient id="g28" gradientUnits="userSpaceOnUse" x1="589.6" y1="0" x2="678.7" y2="0"><stop offset="0.03" stop-color="#000000"/><stop offset="0.34" stop-color="#505050"/><stop offset="0.57" stop-color="#8e8e8e"/><stop offset="0.77" stop-color="#c2c2c2"/><stop offset="0.98" stop-color="#f7f7f7"/></linearGradient>
<path d="M589.6,4150.0V3375.2H593.0V3375.2H596.4V3405.6H599.9V3426.7H603.3V3464.5H606.7V3481.7H610.1V3495.4H613.6V3509.1H617.0V3522.8H620.4V3533.2H623.9V3553.7H627.3V3560.6H630.7V3570.8H634.1V3577.8H637.6V3584.7H641.0V3598.4H644.4V3605.2H647.8V3612.1H651.3V3615.6H654.7V3622.3H658.1V3625.8H661.6V3636.2H665.0V3639.5H668.4V3643.0H671.8V3646.5H675.3V3649.9H678.7V4150.0Z" fill="url(#g28)"/>
<linearGradient id="g29" gradientUnits="userSpaceOnUse" x1="703.0" y1="0" x2="789.0" y2="0"><stop offset="0.03" stop-color="#000000"/><stop offset="0.34" stop-color="#505050"/><stop offset="0.57" stop-color="#8e8e8e"/><stop offset="0.77" stop-color="#c2c2c2"/><stop offset="0.98" stop-color="#f7f7f7"/></linearGradient>
<path d="M703.0,4150.0V3515.9H706.4V3515.9H709.8V3564.0H713.3V3581.3H716.7V3594.9H720.2V3605.2H723.6V3612.2H727.0V3619.2H730.5V3629.4H733.9V3632.8H737.4V3636.4H740.8V3639.7H744.2V3639.7H747.7V3643.1H751.1V3643.1H754.6V3643.1H758.0V3643.1H761.4V3646.7H764.9V3646.7H768.3V3646.7H771.8V3643.1H775.2V3643.1H778.6V3643.1H782.1V3643.1H785.5V3643.1H789.0V4150.0Z" fill="url(#g29)"/>
<linearGradient id="g30" gradientUnits="userSpaceOnUse" x1="816.5" y1="0" x2="902.5" y2="0"><stop offset="0.03" stop-color="#000000"/><stop offset="0.34" stop-color="#505050"/><stop offset="0.57" stop-color="#8e8e8e"/><stop offset="0.77" stop-color="#c2c2c2"/><stop offset="0.98" stop-color="#f7f7f7"/></linearGradient>
<path d="M816.5,4150.0V3711.8H820.0V3722.4H823.4V3729.0H826.8V3732.7H830.3V3732.7H833.7V3732.7H837.2V3732.7H840.6V3729.0H844.0V3725.7H847.5V3725.7H850.9V3722.4H854.3V3715.4H857.8V3715.4H861.2V3711.8H864.7V3708.5H868.1V3701.5H871.5V3701.5H875.0V3694.8H878.4V3691.2H881.9V3687.9H885.3V3684.2H888.7V3680.9H892.2V3673.9H895.6V3670.6H899.1V3667.3H902.5V4150.0Z" fill="url(#g30)"/>
<linearGradient id="g31" gradientUnits="userSpaceOnUse" x1="926.4" y1="0" x2="1015.7" y2="0"><stop offset="0.03" stop-color="#000000"/><stop offset="0.34" stop-color="#505050"/><stop offset="0.57" stop-color="#8e8e8e"/><stop offset="0.77" stop-color="#c2c2c2"/><stop offset="0.98" stop-color="#f7f7f7"/></linearGradient>
<path d="M926.4,4150.0V3499.0H929.8V3499.0H933.3V3533.2H936.7V3560.7H940.1V3588.3H943.6V3629.4H947.0V3643.1H950.5V3657.0H953.9V3667.3H957.3V3677.6H960.8V3687.9H964.2V3691.2H967.6V3694.8H971.1V3698.2H974.5V3698.2H977.9V3698.2H981.4V3694.8H984.8V3694.8H988.2V3694.8H991.7V3691.2H995.1V3691.2H998.5V3684.2H1002.0V3680.9H1005.4V3680.9H1008.8V3673.9H1012.3V3673.9H1015.7V4150.0Z" fill="url(#g31)"/>
<linearGradient id="g32" gradientUnits="userSpaceOnUse" x1="1040.0" y1="0" x2="1125.9" y2="0"><stop offset="0.03" stop-color="#000000"/><stop offset="0.34" stop-color="#505050"/><stop offset="0.57" stop-color="#8e8e8e"/><stop offset="0.77" stop-color="#c2c2c2"/><stop offset="0.98" stop-color="#f7f7f7"/></linearGradient>
<path d="M1040.0,4150.0V3299.5H1043.5V3299.5H1046.9V3337.1H1050.3V3395.6H1053.8V3423.0H1057.2V3443.8H1060.6V3464.3H1064.1V3481.7H1067.5V3512.5H1070.9V3526.2H1074.4V3536.7H1077.8V3546.9H1081.3V3557.3H1084.7V3567.5H1088.1V3581.2H1091.6V3588.2H1095.0V3591.6H1098.4V3598.4H1101.9V3601.9H1105.3V3608.8H1108.7V3612.3H1112.2V3615.6H1115.6V3619.0H1119.0V3622.5H1122.5V3622.5H1125.9V4150.0Z" fill="url(#g32)"/>
<linearGradient id="g33" gradientUnits="userSpaceOnUse" x1="1153.5" y1="0" x2="1238.9" y2="0"><stop offset="0.03" stop-color="#000000"/><stop offset="0.34" stop-color="#505050"/><stop offset="0.57" stop-color="#8e8e8e"/><stop offset="0.77" stop-color="#c2c2c2"/><stop offset="0.98" stop-color="#f7f7f7"/></linearGradient>
<path d="M1153.5,4150.0V3165.6H1156.9V3203.2H1160.3V3237.6H1163.7V3268.5H1167.2V3292.6H1170.6V3316.7H1174.0V3357.8H1177.4V3375.0H1180.8V3392.1H1184.2V3404.7H1187.7V3419.7H1191.1V3429.9H1194.5V3454.1H1197.9V3460.8H1201.3V3471.2H1204.7V3481.4H1208.2V3488.4H1211.6V3502.1H1215.0V3509.1H1218.4V3512.5H1221.8V3519.3H1225.2V3526.2H1228.7V3529.7H1232.1V3536.4H1235.5V3543.4H1238.9V4150.0Z" fill="url(#g33)"/>
<rect x="1238.9" y="3546.7" width="3.4" height="3.5" fill="#f6f6f6"/>
<linearGradient id="g34" gradientUnits="userSpaceOnUse" x1="1263.6" y1="0" x2="1352.7" y2="0"><stop offset="0.03" stop-color="#000000"/><stop offset="0.34" stop-color="#505050"/><stop offset="0.57" stop-color="#8e8e8e"/><stop offset="0.77" stop-color="#c2c2c2"/><stop offset="0.98" stop-color="#f7f7f7"/></linearGradient>
<path d="M1263.6,4150.0V3072.6H1267.0V3072.6H1270.5V3110.4H1273.9V3144.7H1277.3V3175.8H1280.7V3227.6H1284.2V3248.0H1287.6V3268.6H1291.0V3285.8H1294.5V3303.0H1297.9V3316.7H1301.3V3344.3H1304.7V3358.0H1308.2V3368.2H1311.6V3378.6H1315.0V3388.8H1318.4V3402.5H1321.9V3413.0H1325.3V3423.2H1328.7V3430.1H1332.2V3436.9H1335.6V3440.3H1339.0V3454.0H1342.4V3457.5H1345.9V3464.5H1349.3V3467.9H1352.7V4150.0Z" fill="url(#g34)"/>
<rect x="1352.7" y="3471.4" width="3.4" height="3.5" fill="#f6f6f6"/>
<linearGradient id="g35" gradientUnits="userSpaceOnUse" x1="1376.8" y1="0" x2="1462.7" y2="0"><stop offset="0.03" stop-color="#000000"/><stop offset="0.34" stop-color="#505050"/><stop offset="0.57" stop-color="#8e8e8e"/><stop offset="0.77" stop-color="#c2c2c2"/><stop offset="0.98" stop-color="#f7f7f7"/></linearGradient>
<path d="M1376.8,4150.0V3004.1H1380.3V3004.1H1383.7V3041.7H1387.1V3106.9H1390.6V3134.5H1394.0V3158.7H1397.4V3179.1H1400.9V3199.7H1404.3V3219.3H1407.7V3251.2H1411.2V3265.2H1414.6V3278.9H1418.1V3292.5H1421.5V3303.0H1424.9V3323.4H1428.4V3333.8H1431.8V3344.1H1435.2V3351.0H1438.7V3361.2H1442.1V3368.2H1445.5V3381.9H1449.0V3385.3H1452.4V3392.3H1455.8V3395.6H1459.3V3404.0H1462.7V4150.0Z" fill="url(#g35)"/>
<rect x="1462.7" y="3409.5" width="3.4" height="7.0" fill="#f6f6f6"/>
<linearGradient id="g36" gradientUnits="userSpaceOnUse" x1="1490.5" y1="0" x2="1576.3" y2="0"><stop offset="0.03" stop-color="#000000"/><stop offset="0.34" stop-color="#505050"/><stop offset="0.57" stop-color="#8e8e8e"/><stop offset="0.77" stop-color="#c2c2c2"/><stop offset="0.98" stop-color="#f7f7f7"/></linearGradient>
<path d="M1490.5,4150.0V2952.4H1494.0V2990.1H1497.4V3024.6H1500.8V3055.6H1504.3V3083.1H1507.7V3107.1H1511.1V3128.0H1514.6V3169.1H1518.0V3186.3H1521.4V3200.1H1524.9V3217.2H1528.3V3231.1H1531.7V3255.2H1535.1V3265.6H1538.6V3275.8H1542.0V3286.2H1545.4V3296.5H1548.9V3303.3H1552.3V3317.1H1555.7V3323.9H1559.2V3330.8H1562.6V3337.8H1566.0V3344.6H1569.5V3354.8H1572.9V3358.4H1576.3V4150.0Z" fill="url(#g36)"/>
<rect x="1576.3" y="3361.6" width="3.4" height="3.6" fill="#f6f6f6"/>
</g>
<line x1="188.9" y1="3775.2" x2="1650.5" y2="3775.2" stroke="#000" stroke-width="3.2"/>
<line x1="188.9" y1="3404.1" x2="1655.5" y2="3404.1" stroke="#000" stroke-width="3.2"/>
<line x1="188.9" y1="3218.7" x2="1650.5" y2="3218.7" stroke="#000" stroke-width="3.2"/>
<line x1="188.9" y1="3033.2" x2="1650.5" y2="3033.2" stroke="#000" stroke-width="3.2"/>
<line x1="298.6" y1="2936.9" x2="298.6" y2="2955.4" stroke="#000" stroke-width="3.3"/>
<line x1="411.2" y1="2936.9" x2="411.2" y2="2955.4" stroke="#000" stroke-width="3.3"/>
<line x1="523.8" y1="2936.9" x2="523.8" y2="2955.4" stroke="#000" stroke-width="3.3"/>
<line x1="636.3" y1="2936.9" x2="636.3" y2="2955.4" stroke="#000" stroke-width="3.3"/>
<line x1="748.9" y1="2936.9" x2="748.9" y2="2955.4" stroke="#000" stroke-width="3.3"/>
<line x1="861.5" y1="2936.9" x2="861.5" y2="2955.4" stroke="#000" stroke-width="3.3"/>
<line x1="974.1" y1="2936.9" x2="974.1" y2="2955.4" stroke="#000" stroke-width="3.3"/>
<line x1="1086.7" y1="2936.9" x2="1086.7" y2="2955.4" stroke="#000" stroke-width="3.3"/>
<line x1="1199.3" y1="2936.9" x2="1199.3" y2="2955.4" stroke="#000" stroke-width="3.3"/>
<line x1="1311.8" y1="2936.9" x2="1311.8" y2="2955.4" stroke="#000" stroke-width="3.3"/>
<line x1="1424.4" y1="2936.9" x2="1424.4" y2="2955.4" stroke="#000" stroke-width="3.3"/>
<line x1="1537.0" y1="2936.9" x2="1537.0" y2="2955.4" stroke="#000" stroke-width="3.3"/>
<line x1="188.9" y1="3589.7" x2="203.9" y2="3589.7" stroke="#000" stroke-width="3.3"/>
<line x1="1650.5" y1="3589.7" x2="1630.5" y2="3589.7" stroke="#000" stroke-width="3.3"/>
<line x1="188.9" y1="3961.6" x2="197.4" y2="3961.6" stroke="#000" stroke-width="3.3"/>
<line x1="1650.5" y1="3961.6" x2="1630.5" y2="3961.6" stroke="#000" stroke-width="3.3"/>
<rect x="188.9" y="2936.9" width="1461.6" height="1213.1" fill="none" stroke="#000" stroke-width="3.3"/>
<text text-anchor="end" transform="translate(177.0 3052.2) scale(1.045 1.095)" stroke="#fff">3</text>
<text text-anchor="end" transform="translate(177.0 3237.7) scale(1.045 1.095)" stroke="#fff">2.5</text>
<text text-anchor="end" transform="translate(177.0 3423.1) scale(1.045 1.095)" stroke="#fff">2</text>
<text text-anchor="end" transform="translate(177.0 3608.7) scale(1.045 1.095)" stroke="#fff">1.5</text>
<text text-anchor="end" transform="translate(177.0 3794.2) scale(1.045 1.095)" stroke="#fff">1</text>
<text text-anchor="end" transform="translate(177.0 3980.6) scale(1.045 1.095)" stroke="#fff">0.5</text>
<text text-anchor="end" transform="translate(177.0 4168.0) scale(1.045 1.095)" stroke="#fff">0</text>
<text text-anchor="middle" transform="translate(295.6 4210.0) scale(1.045 1.095)" stroke="#fff">20</text>
<text text-anchor="middle" transform="translate(408.2 4210.0) scale(1.045 1.095)" stroke="#fff">40</text>
<text text-anchor="middle" transform="translate(520.8 4210.0) scale(1.045 1.095)" stroke="#fff">60</text>
<text text-anchor="middle" transform="translate(633.3 4210.0) scale(1.045 1.095)" stroke="#fff">80</text>
<text text-anchor="middle" transform="translate(749.9 4210.0) scale(1.000 1.095)" stroke="#fff">100</text>
<text text-anchor="middle" transform="translate(862.5 4210.0) scale(1.000 1.095)" stroke="#fff">120</text>
<text text-anchor="middle" transform="translate(975.1 4210.0) scale(1.000 1.095)" stroke="#fff">140</text>
<text text-anchor="middle" transform="translate(1087.7 4210.0) scale(1.000 1.095)" stroke="#fff">160</text>
<text text-anchor="middle" transform="translate(1200.3 4210.0) scale(1.000 1.095)" stroke="#fff">180</text>
<text text-anchor="middle" transform="translate(1310.8 4210.0) scale(1.045 1.095)" stroke="#fff">200</text>
<text text-anchor="middle" transform="translate(1423.4 4210.0) scale(1.045 1.095)" stroke="#fff">220</text>
<text text-anchor="middle" transform="translate(1536.0 4210.0) scale(1.045 1.095)" stroke="#fff">240</text>
<text transform="translate(74.2 3852.0) rotate(-90) scale(0.995 1.075)" stroke="#fff" stroke-width="0.8">Ride comfort index <tspan font-style="italic" dy="-3" dx="3">W</tspan><tspan font-size="42" dy="22" dx="1">Z</tspan></text>
<text transform="translate(203.8 3010.4) scale(0.984 1.075)" stroke="#ff66ff">Very irregular</text>
<text transform="translate(205.8 3111.0) scale(0.988 1.075)" stroke="#00ff99">Strong, irregular,</text>
<text transform="translate(205.0 3171.8) scale(0.981 1.075)" stroke="#00ff99">but still tolerable</text>
<text transform="translate(208.8 3296.2) scale(0.992 1.075)" stroke="#ffff99">More pronuced</text>
<text transform="translate(212.6 3357.9) scale(0.964 1.075)" stroke="#ffff99">but not unpleasant</text>
<text transform="translate(215.5 3471.7) scale(0.980 1.075)" stroke="#ffff99">Cleary</text>
<text transform="translate(221.0 3533.2) scale(1.006 1.075)" stroke="#ffff99">noticeable</text>
<text transform="translate(1566.3 2996.8) scale(1.100 1.03)" stroke="#ff66ff">(c)</text>
<text transform="translate(236.0 4139.4) rotate(-90) scale(0.987 0.95)" stroke="#99ffff">Just noticeable</text>
<rect x="256.0" y="1285.3" width="3.4" height="3.4" fill="#000"/>
<rect x="249.1" y="2622.1" width="3.4" height="3.4" fill="#000"/>
<rect x="245.5" y="3956.3" width="3.4" height="3.4" fill="#000"/>
<text text-anchor="middle" transform="translate(938.0 4276.0) scale(0.995 1.05)" stroke="#fff">Velocity [km/h]</text>
</svg></body></html>
